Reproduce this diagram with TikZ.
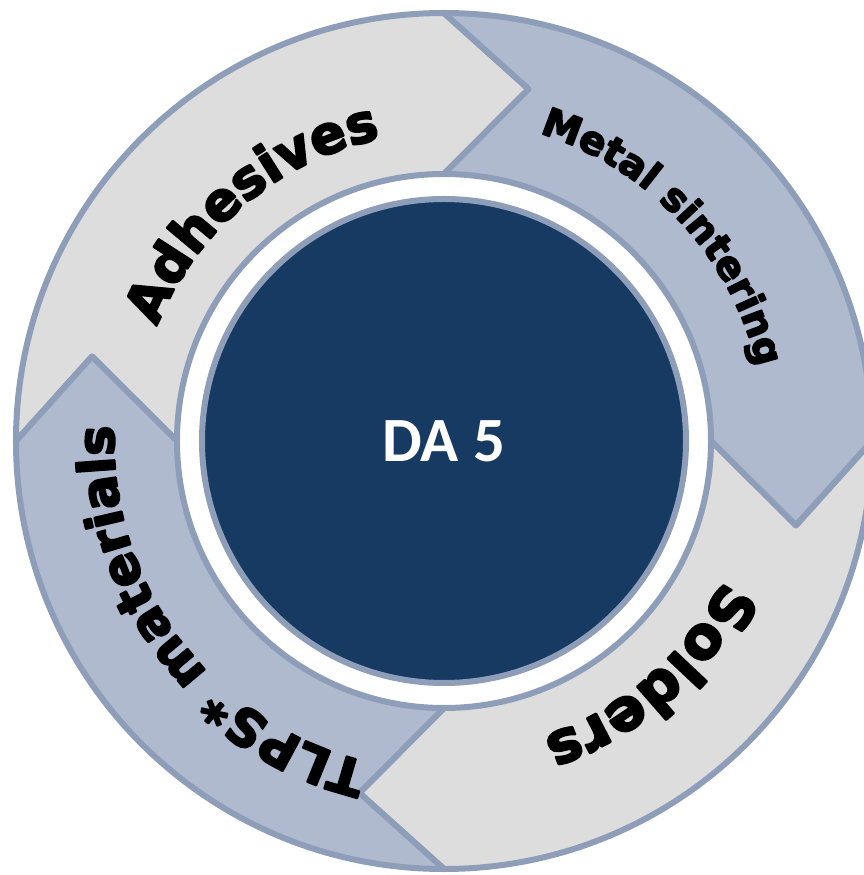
\documentclass[tikz,border=0pt]{standalone}
\usepackage{fontspec}
\usetikzlibrary{decorations.text}
\newfontfamily\arcfont{DejaVu Sans}[UprightFont={* Bold}, FakeBold=4]
\newfontfamily\hubfont{Carlito}
\definecolor{ringline}{HTML}{8E9DB8}
\definecolor{lightseg}{HTML}{DDDDDD}
\definecolor{blueseg}{HTML}{AFBACF}
\definecolor{hubfill}{HTML}{173A62}
\tikzset{
  segment/.style={draw=ringline, line width=6pt},
  arclabel/.style={decorate, decoration={text along path, text align=center, text={#1}}}
}
\begin{document}
\begin{tikzpicture}[x=1pt, y=1pt, line cap=round, line join=round]
  \useasboundingbox (-444,-434) rectangle (419,441);
  % Ring segments
  \foreach \s/\c in {180/lightseg, 90/blueseg, 0/lightseg, -90/blueseg}
    \filldraw[segment, fill=\c] ({\s}:428) arc[start angle=\s, end angle=\s-90, radius=428]
      -- ({\s-103.5}:362) -- ({\s-90}:267) arc[start angle=\s-90, end angle=\s, radius=267]
      -- ({\s-13.5}:362) -- cycle;
  % Hub
  \node[circle, draw=ringline, line width=6pt, fill=hubfill, minimum size=484pt, inner sep=0pt] (core) at (0,0) {};
  \node[text=white, font=\hubfont\bfseries\fontsize{63}{63}\selectfont] (hub) at (core.center) {DA 5};
  % Segment labels
  \path[arclabel={|\arcfont\fontsize{53}{53}\selectfont|Adhesives}] (195:309) arc[start angle=195, end angle=65, radius=309];
  \path[arclabel={|\arcfont\fontsize{39}{39}\selectfont|Metal sintering}] (108:322) arc[start angle=108, end angle=-22, radius=322];
  \path[arclabel={|\arcfont\fontsize{58}{58}\selectfont|Solders}] (16:312) arc[start angle=16, end angle=-114, radius=312];
  \path[arclabel={|\arcfont\fontsize{51}{51}\selectfont|TLPS* materials}] (282:330) arc[start angle=282, end angle=152, radius=330];
\end{tikzpicture}
\end{document}
